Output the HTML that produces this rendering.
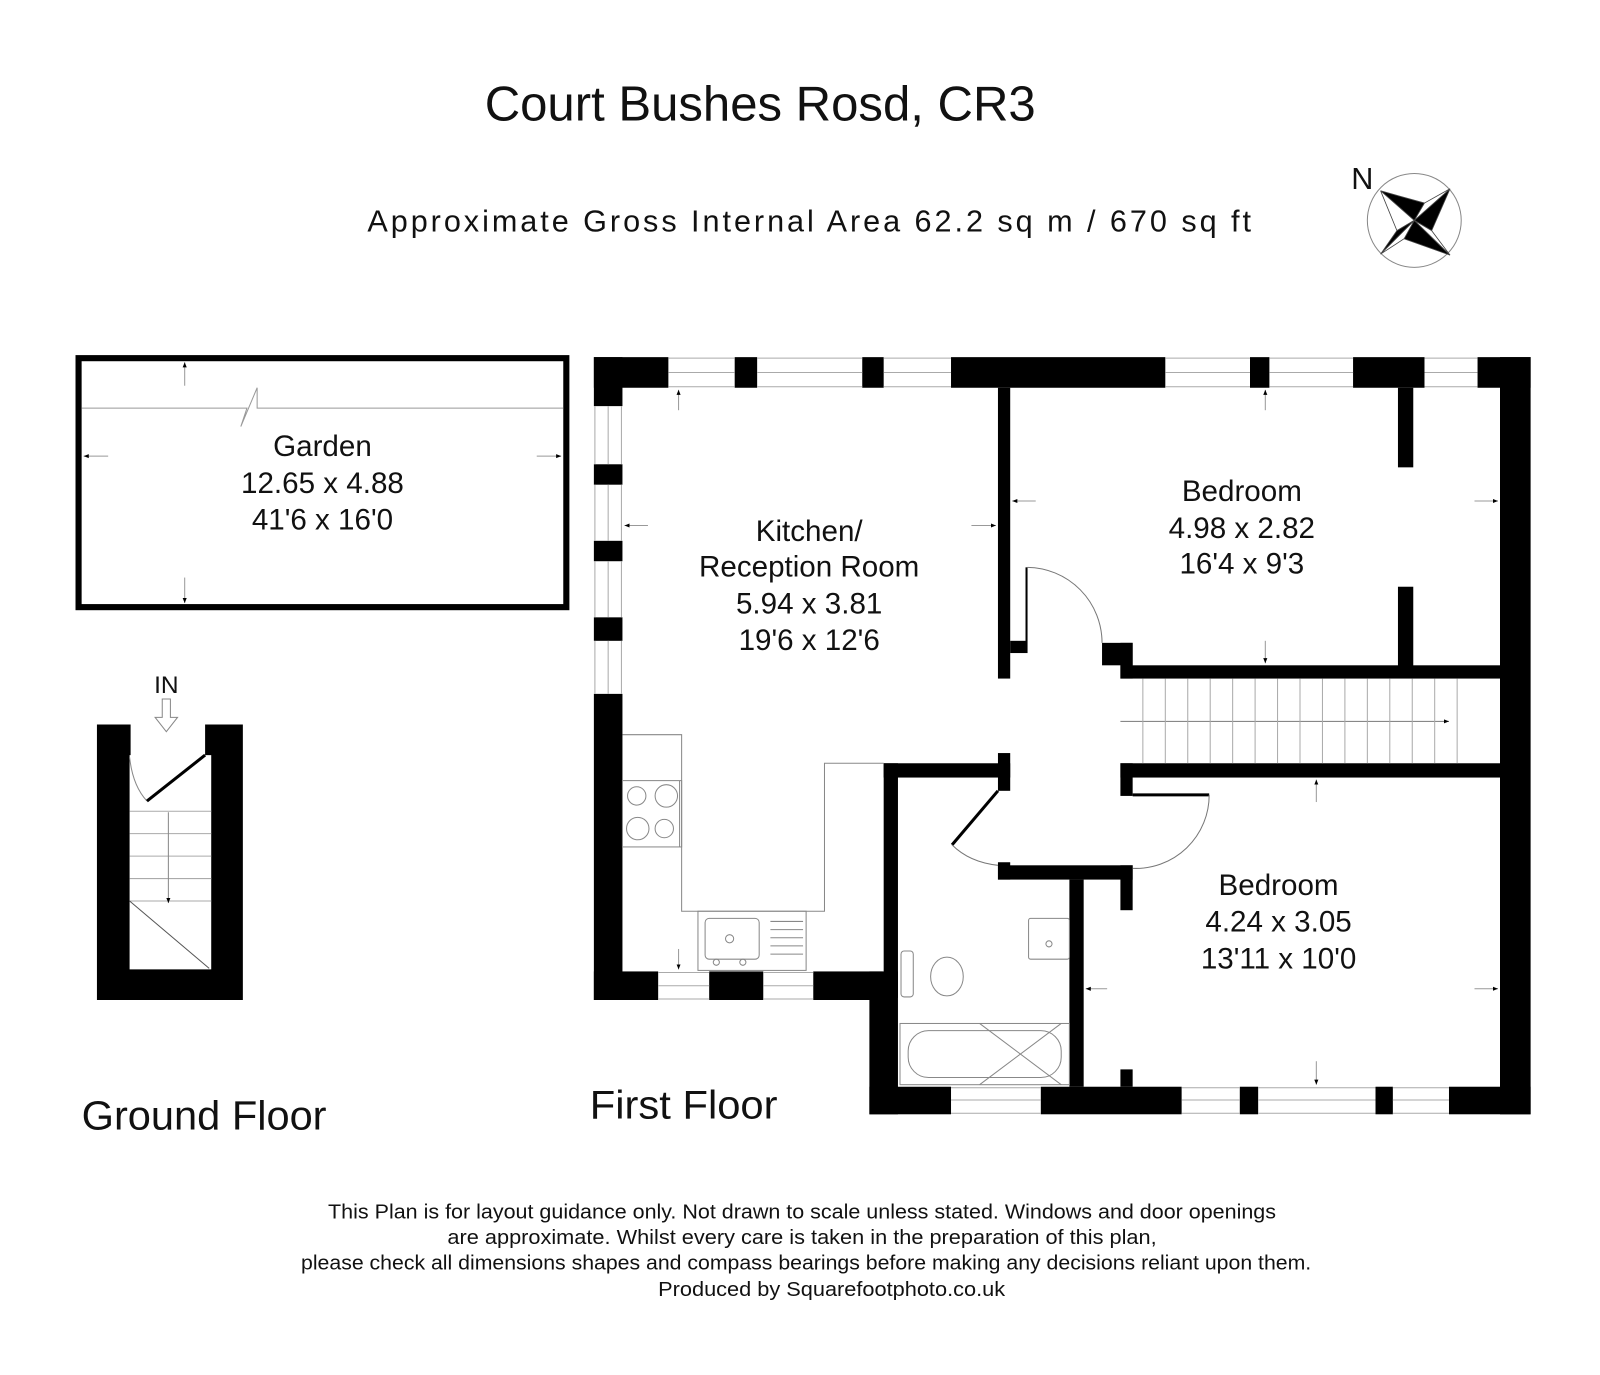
<!DOCTYPE html>
<html><head><meta charset="utf-8"><style>
html,body{margin:0;padding:0;background:#fff}
svg{display:block}
text{font-family:"Liberation Sans",sans-serif;fill:#111}
</style></head><body>
<svg width="1600" height="1375" viewBox="0 0 1568 1347.5" preserveAspectRatio="none" xmlns="http://www.w3.org/2000/svg">
<defs>
<marker id="ar" viewBox="0 0 10 10" refX="10" refY="5" markerWidth="5" markerHeight="5" orient="auto"><path d="M0,1 L10,5 L0,9z" fill="#000"/></marker>
</defs>
<!-- Title -->
<text x="745" y="118" font-size="48" text-anchor="middle" textLength="540" lengthAdjust="spacingAndGlyphs">Court Bushes Rosd, CR3</text>
<text x="793" y="227" font-size="30" text-anchor="middle" textLength="866" lengthAdjust="spacing">Approximate Gross Internal Area  62.2 sq m / 670 sq ft</text>
<!-- compass -->
<text x="1335" y="185" font-size="30" text-anchor="middle">N</text>
<circle cx="1386" cy="216" r="46" fill="none" stroke="#888" stroke-width="1"/>
<g stroke="#444" stroke-width="0.8">
<polygon points="1353,187 1396,199 1386,216" fill="#000"/>
<polygon points="1353,187 1369,226 1386,216" fill="#fff"/>
<polygon points="1421,185 1403,226 1386,216" fill="#000"/>
<polygon points="1421,185 1396,199 1386,216" fill="#fff"/>
<polygon points="1421,250 1376,234 1386,216" fill="#000"/>
<polygon points="1421,250 1403,226 1386,216" fill="#fff"/>
<polygon points="1353,249 1369,226 1386,216" fill="#000"/>
<polygon points="1353,249 1376,234 1386,216" fill="#fff"/>
</g>

<!-- Garden -->
<rect x="77" y="351" width="478" height="244" fill="none" stroke="#000" stroke-width="6"/>
<path d="M80,400 H242 L236,418 L252,380 V400 H552" fill="none" stroke="#999" stroke-width="1"/>
<g stroke="#999" stroke-width="1" marker-end="url(#ar)">
<line x1="181" y1="378" x2="181" y2="355"/><line x1="181" y1="566" x2="181" y2="591"/>
<line x1="106" y1="447" x2="82" y2="447"/><line x1="526" y1="447" x2="550" y2="447"/>
</g>
<g font-size="29" text-anchor="middle">
<text x="316" y="447">Garden</text>
<text x="316" y="483">12.65 x 4.88</text>
<text x="316" y="519">41'6 x 16'0</text>
</g>

<!-- Ground floor stair unit -->
<text x="163" y="679" font-size="24" text-anchor="middle">IN</text>
<path d="M159,685 V703 H152 L163,717 L174,703 H167 V685 Z" fill="#fff" stroke="#888" stroke-width="1"/>
<path d="M95,710 H128 V740 H127 V950 H207 V740 H201 V710 H238 V980 H95 Z" fill="#000"/>
<path d="M127,742 Q130,770 144,785" fill="none" stroke="#888" stroke-width="1"/>
<line x1="144" y1="785" x2="201" y2="740" stroke="#000" stroke-width="3"/>
<g stroke="#aaa" stroke-width="1">
<line x1="127" y1="795" x2="207" y2="795"/><line x1="127" y1="817" x2="207" y2="817"/>
<line x1="127" y1="839" x2="207" y2="839"/><line x1="127" y1="861" x2="207" y2="861"/>
<line x1="127" y1="883" x2="207" y2="883"/><line x1="127" y1="883" x2="205" y2="949" stroke="#555"/>
</g>
<line x1="165" y1="796" x2="165" y2="885" stroke="#888" stroke-width="1" marker-end="url(#ar)"/>
<text x="80" y="1107" font-size="40" textLength="240" lengthAdjust="spacingAndGlyphs">Ground Floor</text>

<!-- First floor walls -->
<g fill="#000">
<rect x="582" y="350" width="73" height="30"/><rect x="720" y="350" width="22" height="30"/>
<rect x="845" y="350" width="21" height="30"/><rect x="932" y="350" width="210" height="30"/>
<rect x="1225" y="350" width="19" height="30"/><rect x="1326" y="350" width="70" height="30"/>
<rect x="1448" y="350" width="52" height="30"/>
<rect x="582" y="350" width="28" height="48"/><rect x="582" y="455" width="28" height="20"/>
<rect x="582" y="530" width="28" height="20"/><rect x="582" y="605" width="28" height="23"/>
<rect x="582" y="680" width="28" height="300"/>
<rect x="582" y="952" width="63" height="28"/><rect x="695" y="952" width="53" height="28"/>
<rect x="797" y="952" width="68" height="28"/>
<rect x="852" y="952" width="28" height="140"/><rect x="866" y="748" width="14" height="230"/>
<rect x="852" y="1065" width="80" height="27"/><rect x="1020" y="1065" width="138" height="27"/>
<rect x="1215" y="1065" width="18" height="27"/><rect x="1348" y="1065" width="17" height="27"/>
<rect x="1420" y="1065" width="80" height="27"/>
<rect x="1470" y="350" width="30" height="742"/>
<rect x="978" y="380" width="12" height="285"/><rect x="990" y="628" width="15" height="12"/>
<rect x="1005" y="556" width="2" height="84"/>
<rect x="1098" y="652" width="372" height="13"/><rect x="1080" y="630" width="30" height="22"/>
<rect x="1098" y="630" width="12" height="35"/>
<rect x="1370" y="380" width="15" height="78"/><rect x="1370" y="575" width="15" height="80"/>
<rect x="1098" y="748" width="372" height="14"/><rect x="1098" y="748" width="12" height="32"/>
<rect x="866" y="748" width="124" height="14"/><rect x="978" y="738" width="12" height="37"/>
<rect x="978" y="845" width="12" height="17"/><rect x="978" y="848" width="132" height="14"/>
<rect x="1098" y="848" width="12" height="44"/>
<rect x="1048" y="862" width="14" height="203"/>
<rect x="1098" y="1048" width="12" height="17"/>
</g>
<!-- windows -->
<g fill="none" stroke="#aaa" stroke-width="1">
<path d="M655,351H720M655,365H720M655,379H720M742,351H845M742,365H845M742,379H845M866,351H932M866,365H932M866,379H932M1142,351H1225M1142,365H1225M1142,379H1225M1244,351H1326M1244,365H1326M1244,379H1326M1396,351H1448M1396,365H1448M1396,379H1448"/>
<path d="M583,398V455M596,398V455M609,398V455M583,475V530M596,475V530M609,475V530M583,550V605M596,550V605M609,550V605M583,628V680M596,628V680M609,628V680"/>
<path d="M645,953H695M645,966H695M645,979H695M748,953H797M748,966H797M748,979H797"/>
<path d="M932,1066H1020M932,1078H1020M932,1091H1020M1158,1066H1215M1158,1078H1215M1158,1091H1215M1233,1066H1348M1233,1078H1348M1233,1091H1348M1365,1066H1420M1365,1078H1420M1365,1091H1420"/>
</g>
<!-- doors -->
<path d="M1007,556 A74,74 0 0 1 1080,630" fill="none" stroke="#777" stroke-width="1"/>
<line x1="978" y1="775" x2="933" y2="828" stroke="#000" stroke-width="3"/>
<path d="M933,828 Q950,845 978,848" fill="none" stroke="#777" stroke-width="1"/>
<line x1="1110" y1="779" x2="1185" y2="779" stroke="#000" stroke-width="3"/>
<path d="M1185,779 A72,72 0 0 1 1110,851" fill="none" stroke="#777" stroke-width="1"/>
<!-- stairs -->
<g stroke="#aaa" stroke-width="1">
<line x1="1098" y1="707" x2="1420" y2="707" stroke="#888" marker-end="url(#ar)"/>
<path d="M1120,665V748M1142,665V748M1164,665V748M1186,665V748M1208,665V748M1230,665V748M1252,665V748M1274,665V748M1296,665V748M1318,665V748M1340,665V748M1362,665V748M1384,665V748M1406,665V748M1428,665V748"/>
</g>
<!-- kitchen fittings -->
<g fill="none" stroke="#888" stroke-width="1">
<path d="M610,720H668V893H808V748H866"/>
<rect x="610" y="765" width="58" height="65"/><line x1="666" y1="765" x2="666" y2="830"/>
<circle cx="624" cy="780" r="9"/><circle cx="653" cy="780" r="11"/><circle cx="625" cy="812" r="11"/><circle cx="651" cy="812" r="9"/>
<rect x="684" y="893" width="106" height="58"/><rect x="691" y="900" width="53" height="40" rx="4"/>
<path d="M755,903H787M755,911H787M755,919H787M755,927H787M755,935H787"/>
<circle cx="715" cy="920" r="4"/><circle cx="702" cy="943" r="3"/><circle cx="728" cy="943" r="3"/>
<rect x="1008" y="900" width="40" height="40" rx="2"/><circle cx="1028" cy="925" r="3"/>
<ellipse cx="928" cy="957" rx="16" ry="19"/><rect x="883" y="932" width="12" height="45" rx="3"/>
<rect x="882" y="1003" width="166" height="60"/><rect x="890" y="1010" width="150" height="46" rx="20"/>
<path d="M960,1003L1040,1063M960,1063L1040,1003"/>
</g>
<!-- dimension arrows -->
<g stroke="#999" stroke-width="1" marker-end="url(#ar)">
<line x1="665" y1="402" x2="665" y2="382"/><line x1="635" y1="515" x2="612" y2="515"/>
<line x1="952" y1="515" x2="976" y2="515"/><line x1="665" y1="930" x2="665" y2="950"/>
<line x1="1240" y1="402" x2="1240" y2="382"/><line x1="1015" y1="491" x2="992" y2="491"/>
<line x1="1445" y1="491" x2="1468" y2="491"/><line x1="1240" y1="628" x2="1240" y2="650"/>
<line x1="1290" y1="786" x2="1290" y2="764"/><line x1="1085" y1="969" x2="1064" y2="969"/>
<line x1="1445" y1="969" x2="1468" y2="969"/><line x1="1290" y1="1040" x2="1290" y2="1063"/>
</g>
<!-- labels -->
<g font-size="29" text-anchor="middle">
<text x="793" y="530">Kitchen/</text><text x="793" y="565">Reception Room</text>
<text x="793" y="601">5.94 x 3.81</text><text x="793" y="637">19'6 x 12'6</text>
<text x="1217" y="491">Bedroom</text><text x="1217" y="527">4.98 x 2.82</text><text x="1217" y="562">16'4 x 9'3</text>
<text x="1253" y="877">Bedroom</text><text x="1253" y="913">4.24 x 3.05</text><text x="1253" y="949">13'11 x 10'0</text>
</g>
<text x="578" y="1096" font-size="39" textLength="184" lengthAdjust="spacingAndGlyphs">First Floor</text>
<!-- disclaimer -->
<g font-size="20" text-anchor="middle" style="font-family:'Liberation Sans Narrow','Liberation Sans',sans-serif">
<text x="786" y="1194" textLength="929" lengthAdjust="spacingAndGlyphs">This Plan is for layout guidance only. Not drawn to scale unless stated. Windows and door openings</text>
<text x="786" y="1219" textLength="695" lengthAdjust="spacingAndGlyphs">are approximate. Whilst every care is taken in the preparation of this plan,</text>
<text x="790" y="1244" textLength="990" lengthAdjust="spacingAndGlyphs">please check all dimensions shapes and compass bearings before making any decisions reliant upon them.</text>
<text x="815" y="1270" textLength="340" lengthAdjust="spacingAndGlyphs">Produced by Squarefootphoto.co.uk</text>
</g>
</svg>
</body></html>
